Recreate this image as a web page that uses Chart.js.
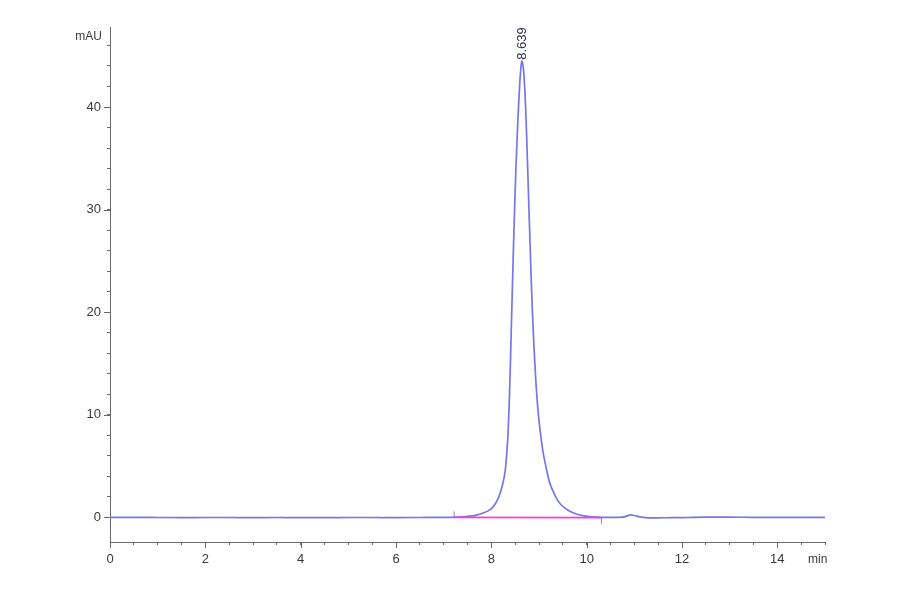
<!DOCTYPE html>
<html><head><meta charset="utf-8">
<script src="https://cdn.jsdelivr.net/npm/chart.js@4.4.1/dist/chart.umd.min.js"></script>
<style>html,body{margin:0;padding:0;background:#fff;}canvas{display:block;}</style>
</head><body>
<canvas id="c" width="900" height="594"></canvas>
<script>
// ---- data ----
const timeMin = [0, 0.5, 1, 1.5, 2, 2.5, 3, 3.5, 4, 4.5, 5, 5.5, 6, 6.5, 7.0, 7.3, 7.5, 7.67, 7.8, 7.95, 8.04, 8.124, 8.18, 8.23, 8.264, 8.29, 8.31, 8.33, 8.35, 8.37, 8.39, 8.41, 8.437, 8.46, 8.49, 8.515, 8.542, 8.57, 8.595, 8.62, 8.639, 8.66, 8.68, 8.70, 8.725, 8.75, 8.775, 8.80, 8.835, 8.86, 8.885, 8.91, 8.935, 8.96, 8.99, 9.02, 9.05, 9.08, 9.12, 9.16, 9.205, 9.25, 9.3, 9.35, 9.393, 9.45, 9.52, 9.62, 9.72, 9.82, 9.94, 10.05, 10.2, 10.35, 10.55, 10.75, 10.85, 10.92, 11.0, 11.12, 11.3, 11.5, 11.8, 12.1, 12.5, 13.0, 13.5, 14.0, 14.5, 15.0];
const signalMAU = [0.0, 0.0, -0.01, -0.02, -0.01, -0.01, -0.02, -0.01, -0.02, -0.02, -0.01, -0.01, -0.02, -0.01, 0.0, 0.03, 0.1, 0.2, 0.38, 0.68, 1.05, 1.66, 2.3, 3.1, 3.8, 4.5, 5.4, 6.6, 8.2, 10.4, 13.3, 16.8, 21.6, 25.6, 30.4, 33.9, 37.1, 40.0, 42.2, 43.8, 44.5, 44.2, 43.4, 41.9, 39.3, 35.8, 32.2, 28.5, 23.4, 20.3, 17.6, 15.3, 13.2, 11.5, 9.9, 8.6, 7.5, 6.5, 5.5, 4.6, 3.7, 3.05, 2.5, 2.0, 1.66, 1.3, 1.0, 0.68, 0.45, 0.28, 0.15, 0.08, 0.03, 0.0, 0.0, 0.02, 0.15, 0.25, 0.18, 0.05, -0.05, -0.04, -0.03, -0.01, 0.02, 0.02, 0.01, 0.01, 0.0, 0.0];
const baselineTime = [7.22, 10.31];
const baselineMAU = [0.0, -0.03];
const peakTime = 8.639;
const peakHeight = 44.5;
const peakLabel = "8.639";
const xMajorTicks = [0, 2, 4, 6, 8, 10, 12, 14];
const yMajorTicks = [0, 10, 20, 30, 40];
const xUnit = "min";
const yUnit = "mAU";

const FONT = "'Liberation Sans', Arial, sans-serif";
const TXT = '#3a3a3a';
const AX = '#6a6a6a';

const trace = timeMin.map((t, i) => ({x: t, y: signalMAU[i]}));
const base = baselineTime.map((t, i) => ({x: t, y: baselineMAU[i]}));

const extras = {
  id: 'extras',
  afterDraw(chart) {
    const ctx = chart.ctx, xs = chart.scales.x, ys = chart.scales.y, ca = chart.chartArea;
    ctx.save();
    ctx.strokeStyle = AX; ctx.lineWidth = 1;
    xMajorTicks.forEach(v => {
      const p = Math.round(xs.getPixelForValue(v)) + 0.5;
      ctx.beginPath(); ctx.moveTo(p, ca.bottom); ctx.lineTo(p, ca.bottom + 6); ctx.stroke();
    });
    yMajorTicks.forEach(v => {
      const p = Math.round(ys.getPixelForValue(v)) + 0.5;
      ctx.beginPath(); ctx.moveTo(ca.left - 6, p); ctx.lineTo(ca.left, p); ctx.stroke();
    });
    ctx.strokeStyle = '#8080c8';
    const b0x = xs.getPixelForValue(baselineTime[0]), b0y = ys.getPixelForValue(baselineMAU[0]);
    const b1x = xs.getPixelForValue(baselineTime[1]), b1y = ys.getPixelForValue(baselineMAU[1]);
    ctx.beginPath(); ctx.moveTo(b0x, b0y); ctx.lineTo(b0x, b0y - 6); ctx.stroke();
    ctx.beginPath(); ctx.moveTo(b1x, b1y); ctx.lineTo(b1x, b1y + 6); ctx.stroke();
    ctx.fillStyle = TXT;
    ctx.font = '12px ' + FONT;
    ctx.textAlign = 'right'; ctx.textBaseline = 'middle';
    ctx.fillText(yUnit, ca.left - 8, ca.top + 10);
    ctx.textAlign = 'left';
    ctx.fillText(xUnit, ca.right - 17, ca.bottom + 18);
    const px = xs.getPixelForValue(peakTime) + 0.5;
    const py = ys.getPixelForValue(peakHeight) - 1;
    ctx.translate(px, py);
    ctx.rotate(-Math.PI / 2);
    ctx.font = '13px ' + FONT;
    ctx.fillStyle = '#2e2e4a';
    ctx.textAlign = 'left'; ctx.textBaseline = 'middle';
    ctx.fillText(peakLabel, 0, 0);
    ctx.restore();
  }
};

Chart.defaults.font.family = FONT;
new Chart(document.getElementById('c'), {
  type: 'line',
  data: {
    datasets: [
      {data: base, borderColor: '#ff3ccf', borderWidth: 1.8, pointRadius: 0, tension: 0},
      {data: trace, borderColor: '#7676ea', borderWidth: 1.7, pointRadius: 0, cubicInterpolationMode: 'monotone'}
    ]
  },
  options: {
    responsive: false,
    animation: false,
    devicePixelRatio: 1,
    layout: {padding: {left: 0, top: 27, right: 75, bottom: 0}},
    plugins: {legend: {display: false}, tooltip: {enabled: false}},
    scales: {
      x: {
        type: 'linear', min: 0, max: 15,
        afterFit: s => { s.height = 52; },
        border: {display: true, color: AX, width: 1},
        grid: {display: true, drawOnChartArea: false, tickLength: 3, color: AX, tickColor: AX},
        ticks: {stepSize: 0.5, autoSkip: false, maxRotation: 0, padding: 7, color: TXT, font: {size: 13},
          callback: v => (Math.abs(v % 2) < 1e-6 ? String(v) : '')}
      },
      y: {
        type: 'linear', min: -2.4, max: 47.8,
        afterFit: s => { s.width = 110; },
        afterBuildTicks: s => { s.ticks = s.ticks.filter(t => Math.abs(t.value / 2 - Math.round(t.value / 2)) < 1e-6); },
        border: {display: true, color: AX, width: 1},
        grid: {display: true, drawOnChartArea: false, tickLength: 3, color: AX, tickColor: AX},
        ticks: {stepSize: 2, autoSkip: false, padding: 6, color: TXT, font: {size: 13},
          callback: v => (Math.abs(v % 10) < 1e-6 ? String(v) : '')}
      }
    }
  },
  plugins: [extras]
});
</script>
</body></html>
